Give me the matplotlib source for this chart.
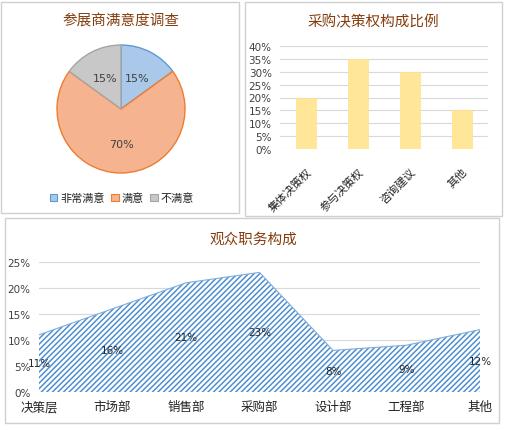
import matplotlib
matplotlib.use('Agg')
from matplotlib import pyplot as plt
from matplotlib.patches import Rectangle, Patch
from matplotlib.ticker import PercentFormatter
from matplotlib.transforms import ScaledTranslation
import numpy as np

plt.rcParams['font.family'] = ['Noto Sans CJK SC', 'DejaVu Sans']
plt.rcParams['hatch.linewidth'] = 1.1

# pie data
pie_labels = ['非常满意', '满意', '不满意']
pie_values = [15, 70, 15]
pie_fill = ['#A9C8EA', '#F6B390', '#C8C8C8']
pie_edge = ['#5B9BD5', '#ED7D31', '#A5A5A5']

# bar data
bar_labels = ['集体决策权', '参与决策权', '咨询建议', '其他']
bar_values = [0.20, 0.35, 0.30, 0.15]

# area data
area_labels = ['决策层', '市场部', '销售部', '采购部', '设计部', '工程部', '其他']
area_values = [0.11, 0.16, 0.21, 0.23, 0.08, 0.09, 0.12]

W, H = 507, 431
title_color = '#843C0C'
grid_color = '#D9D9D9'
tick_color = '#404040'

fig = plt.figure(figsize=(W / 100, H / 100), dpi=100)


def box(x0, y0, x1, y1):
    # pixel box (top-left origin) -> figure fraction rect
    return [x0 / W, 1 - y1 / H, (x1 - x0) / W, (y1 - y0) / H]


# panel frames
for x0, y0, x1, y1 in [(1, 3, 239, 214), (245, 3, 502, 217), (5, 219, 499, 424)]:
    fig.patches.append(Rectangle((x0 / W, 1 - y1 / H), (x1 - x0) / W, (y1 - y0) / H,
                                 transform=fig.transFigure, fill=False,
                                 edgecolor='#D0D0D0', linewidth=1.0))

# ---- pie ----
ax1 = fig.add_axes(box(57, 46, 185, 174))
wedges, texts = ax1.pie(pie_values, colors=pie_fill, startangle=90, counterclock=False,
                        radius=1.0, wedgeprops=dict(linewidth=1.0))
for w, ec in zip(wedges, pie_edge):
    w.set_edgecolor(ec)
ax1.set_xlim(-1, 1)
ax1.set_ylim(-1, 1)
ax1.set_aspect('equal')
# data labels
cum = 0
for v, w in zip(pie_values, wedges):
    mid = np.deg2rad(90 - (cum + v / 2) / 100 * 360)
    ax1.text(0.55 * np.cos(mid), 0.55 * np.sin(mid), f'{v}%', ha='center', va='center',
             fontsize=8, color=tick_color, family='DejaVu Sans')
    cum += v
fig.text(121 / W, 1 - 21 / H, '参展商满意度调查', ha='center', va='center',
         fontsize=10.5, color=title_color)
handles = [Patch(facecolor=f, edgecolor=e, linewidth=0.8) for f, e in zip(pie_fill, pie_edge)]
fig.legend(handles, pie_labels, loc='center', bbox_to_anchor=(122 / W, 1 - 199 / H),
           ncol=3, frameon=False, fontsize=8, handlelength=0.7, handleheight=0.7,
           handletextpad=0.3, columnspacing=0.5, labelcolor='#222222')

# ---- bar ----
ax2 = fig.add_axes(box(280, 47, 488, 150))
x = np.arange(len(bar_values))
ax2.bar(x, bar_values, width=0.38, color='#FFE699', edgecolor='#FFE08A', linewidth=0.5, zorder=2)
ax2.set_xlim(-0.5, len(bar_values) - 0.5)
ax2.set_ylim(0, 0.40)
ax2.set_yticks(np.arange(0, 0.401, 0.05))
ax2.yaxis.set_major_formatter(PercentFormatter(1.0, decimals=0))
ax2.grid(axis='y', color=grid_color, linewidth=0.8, zorder=0)
ax2.set_xticks(x)
ax2.set_xticklabels(bar_labels, rotation=45, ha='right', rotation_mode='anchor',
                    fontsize=8, color='#222222')
shift = ScaledTranslation(7 / 100, 0, fig.dpi_scale_trans)
for lab in ax2.get_xticklabels():
    lab.set_transform(lab.get_transform() + shift)
for s in ax2.spines.values():
    s.set_visible(False)
ax2.tick_params(axis='both', length=0)
ax2.tick_params(axis='y', labelsize=7.5, labelcolor=tick_color, pad=6)
ax2.tick_params(axis='x', pad=12)
for lab in ax2.get_yticklabels():
    lab.set_family('DejaVu Sans')
fig.text(373 / W, 1 - 22 / H, '采购决策权构成比例', ha='center', va='center',
         fontsize=10.5, color=title_color)

# ---- area ----
ax3 = fig.add_axes(box(39, 263, 480, 393))
xa = np.arange(len(area_values))
ax3.fill_between(xa, 0, area_values, facecolor='white', edgecolor='#4F8FCF',
                 hatch='//////', linewidth=0.0, zorder=2)
ax3.plot(xa, area_values, color='#7FAEDC', linewidth=0.8, zorder=3)
ax3.set_xlim(0, len(area_values) - 1)
ax3.set_ylim(0, 0.25)
ax3.set_yticks(np.arange(0, 0.251, 0.05))
ax3.yaxis.set_major_formatter(PercentFormatter(1.0, decimals=0))
ax3.grid(axis='y', color=grid_color, linewidth=0.8, zorder=0)
ax3.set_xticks(xa)
ax3.set_xticklabels(area_labels, fontsize=9, color='#222222')
for s in ax3.spines.values():
    s.set_visible(False)
ax3.tick_params(axis='both', length=0)
ax3.tick_params(axis='y', labelsize=7.5, labelcolor=tick_color, pad=6)
ax3.tick_params(axis='x', pad=6)
for lab in ax3.get_yticklabels():
    lab.set_family('DejaVu Sans')
for xi, v in zip(xa, area_values):
    ax3.text(xi, v / 2, f'{round(v * 100)}%', ha='center', va='center',
             fontsize=7.5, color='#262626', family='DejaVu Sans', zorder=4)
fig.text(253 / W, 1 - 240 / H, '观众职务构成', ha='center', va='center',
         fontsize=10.5, color=title_color)

fig.savefig('out.png', dpi=100)
